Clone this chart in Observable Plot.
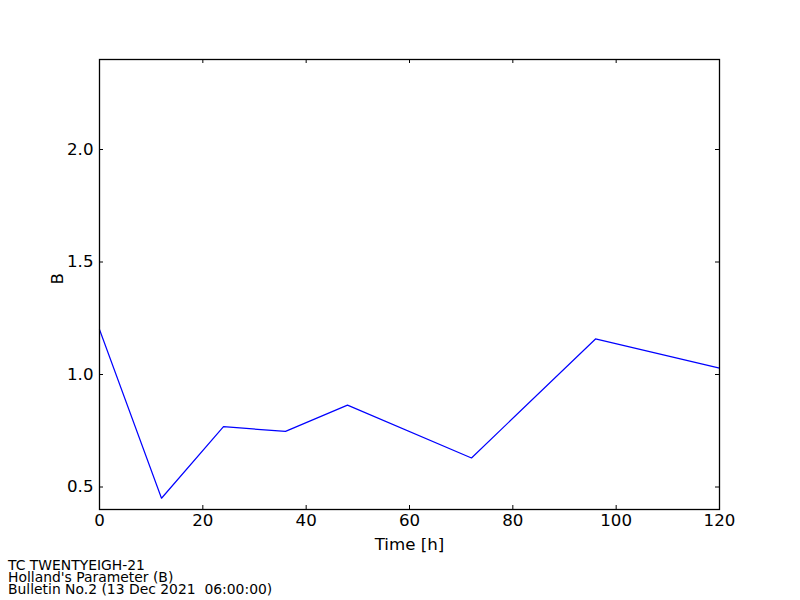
<!DOCTYPE html>
<html>
<head>
<meta charset="utf-8">
<script src="https://cdn.jsdelivr.net/npm/d3@7"></script>
<script src="https://cdn.jsdelivr.net/npm/@observablehq/plot@0.6"></script>
<style>
  html, body { margin: 0; padding: 0; background: #fff; }
  #wrap { position: relative; width: 800px; height: 600px; font-family: "DejaVu Sans", sans-serif; }
  #caption { position: absolute; left: 8px; top: 559px; font-size: 13.9px; line-height: 12px; color: #000; white-space: pre; }
</style>
</head>
<body>
<div id="wrap"><div id="caption"></div></div>
<script>
const hours = [0, 12, 24, 36, 48, 72, 96, 120];
const bValues = [1.20, 0.45, 0.768, 0.747, 0.864, 0.629, 1.158, 1.028];
const xTicks = [0, 20, 40, 60, 80, 100, 120];
const yTicks = [0.5, 1.0, 1.5, 2.0];
const captionLines = ["TC TWENTYEIGH-21", "Holland's Parameter (B)", "Bulletin No.2 (13 Dec 2021  06:00:00)"];

const data = hours.map((h, i) => ({h, b: bValues[i]}));

const W = 800, H = 600;
const mL = 99, mR = 81, mT = 59, mB = 91;
const fw = W - mL - mR, fh = H - mT - mB;
const tl = 4;
const fs = 16.67;

const plot = Plot.plot({
  width: W,
  height: H,
  marginLeft: mL,
  marginRight: mR,
  marginTop: mT,
  marginBottom: mB,
  style: {fontFamily: "DejaVu Sans, sans-serif", fontSize: fs + "px", background: "#fff", color: "#000"},
  x: {domain: [0, 120]},
  y: {domain: [0.4, 2.4]},
  marks: [
    Plot.axisX(xTicks, {tickSize: 0, tickPadding: 5, fontSize: fs, label: null}),
    Plot.axisY(yTicks, {tickSize: 0, tickPadding: 6, fontSize: fs, label: null, tickFormat: d3.format(".1f")}),
    Plot.text(["Time [h]"], {frameAnchor: "bottom", dy: 40, fontSize: fs, lineAnchor: "bottom"}),
    Plot.text(["B"], {frameAnchor: "left", dx: -42, rotate: -90, fontSize: fs}),
    Plot.tickX(xTicks, {x: d => d, insetTop: fh - tl, stroke: "#000"}),
    Plot.tickX(xTicks, {x: d => d, insetBottom: fh - tl, stroke: "#000"}),
    Plot.tickY(yTicks, {y: d => d, insetRight: fw - tl, stroke: "#000"}),
    Plot.tickY(yTicks, {y: d => d, insetLeft: fw - tl, stroke: "#000"}),
    Plot.line(data, {x: "h", y: "b", stroke: "#0000ff", strokeWidth: 1.2}),
    Plot.frame({stroke: "#000", strokeWidth: 1.3})
  ]
});

const wrap = document.getElementById("wrap");
wrap.insertBefore(plot, wrap.firstChild);
document.getElementById("caption").textContent = captionLines.join("\n");
</script>
</body>
</html>
